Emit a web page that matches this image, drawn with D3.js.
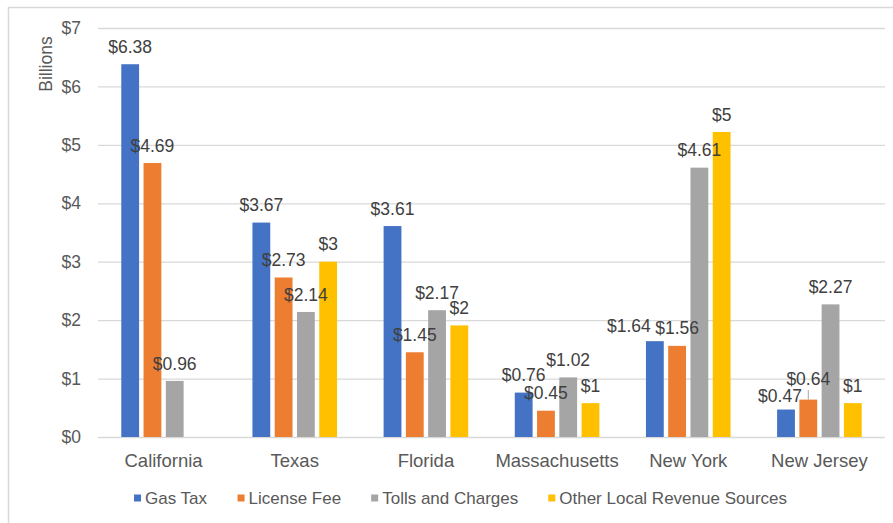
<!DOCTYPE html>
<html>
<head>
<meta charset="utf-8">
<script src="https://cdn.jsdelivr.net/npm/d3@7"></script>
<style>
  body { margin: 0; background: #fff; }
  svg text { font-family: "Liberation Sans", Arial, sans-serif; }
</style>
</head>
<body>
<svg id="chart" width="893" height="523"></svg>
<script>
const states = ["California", "Texas", "Florida", "Massachusetts", "New York", "New Jersey"];
const seriesNames = ["Gas Tax", "License Fee", "Tolls and Charges", "Other Local Revenue Sources"];
const gasTax = [6.38, 3.67, 3.61, 0.76, 1.64, 0.47];
const licenseFee = [4.69, 2.73, 1.45, 0.45, 1.56, 0.64];
const tollsCharges = [0.96, 2.14, 2.17, 1.02, 4.61, 2.27];
const otherLocal = [null, 3.0, 1.91, 0.58, 5.22, 0.58];
const yTicks = [0, 1, 2, 3, 4, 5, 6, 7];

const colors = ["#4472C4", "#ED7D31", "#A5A5A5", "#FFC000"];
const seriesValues = [gasTax, licenseFee, tollsCharges, otherLocal];
// Excel shows the last series rounded to whole dollars
const labelFormats = [d3.format("$.2f"), d3.format("$.2f"), d3.format("$.2f"), d3.format("$.0f")];
// a few labels were dragged off-centre in the original
const labelNudge = {"New York|0": [-26, 2], "New Jersey|0": [-6, 4], "New Jersey|1": [0, -3]};

const svg = d3.select("#chart");
const margin = { left: 98, right: 8, top: 28, bottom: 86 };
const width = +svg.attr("width");
const height = +svg.attr("height");

// outer frame (only top/left edges visible in the crop)
svg.append("path")
  .attr("d", `M8.5,${height} V7.5 H${width}`)
  .attr("fill", "none")
  .attr("stroke", "#d9d9d9")
  .attr("stroke-width", 1.5);

const x0 = d3.scaleBand()
  .domain(states)
  .range([margin.left, width - margin.right])
  .paddingInner(0.287)
  .paddingOuter(0.1435);

const x1 = d3.scaleBand()
  .domain(d3.range(seriesNames.length))
  .range([0, x0.bandwidth()])
  .padding(0.2);

const y = d3.scaleLinear()
  .domain([0, 7])
  .range([height - margin.bottom, margin.top]);

// gridlines + tick labels
const yAxis = d3.axisLeft(y)
  .tickValues(yTicks)
  .tickFormat(d3.format("$"))
  .tickSize(-(width - margin.right - margin.left))
  .tickPadding(17);

const yAxisG = svg.append("g")
  .attr("transform", `translate(${margin.left},0)`)
  .call(yAxis);
yAxisG.select(".domain").remove();
yAxisG.selectAll(".tick line").attr("stroke", "#d9d9d9").attr("stroke-width", 1.3);
yAxisG.selectAll(".tick text")
  .attr("fill", "#595959")
  .style("font-size", "17.5px");

svg.append("text")
  .attr("transform", "rotate(-90)")
  .attr("x", -64)
  .attr("y", 51.5)
  .attr("text-anchor", "middle")
  .attr("fill", "#595959")
  .style("font-size", "17.5px")
  .text("Billions");

// bars
const rows = [];
states.forEach((s, i) => {
  seriesValues.forEach((vals, k) => {
    if (vals[i] != null) rows.push({ state: s, k: k, value: vals[i] });
  });
});

const g = svg.append("g");
g.selectAll("rect")
  .data(rows)
  .join("rect")
  .attr("x", d => x0(d.state) + x1(d.k))
  .attr("y", d => y(d.value))
  .attr("width", x1.bandwidth())
  .attr("height", d => y(0) - y(d.value))
  .attr("fill", d => colors[d.k]);

// data labels
const labelG = svg.append("g");
rows.forEach(d => {
  const nudge = labelNudge[d.state + "|" + d.k] || [0, 0];
  const cx = x0(d.state) + x1(d.k) + x1.bandwidth() / 2;
  const top = y(d.value);
  const ly = top - 17.5 + nudge[1];
  labelG.append("text")
    .attr("x", cx + nudge[0])
    .attr("y", ly)
    .attr("dy", "0.35em")
    .attr("text-anchor", "middle")
    .attr("fill", "#404040")
    .style("font-size", "17.5px")
    .text(labelFormats[d.k](d.value));
  if (nudge[1] < 0) {
    labelG.append("line")
      .attr("x1", cx).attr("x2", cx)
      .attr("y1", ly + 11).attr("y2", top)
      .attr("stroke", "#a6a6a6")
      .attr("stroke-width", 1);
  }
});

// category labels
svg.append("g")
  .selectAll("text")
  .data(states)
  .join("text")
  .attr("x", d => x0(d) + x0.bandwidth() / 2)
  .attr("y", height - margin.bottom + 30)
  .attr("text-anchor", "middle")
  .attr("fill", "#595959")
  .style("font-size", "18.5px")
  .text(d => d);

// legend
const legend = svg.append("g");
const items = legend.selectAll("g")
  .data(seriesNames)
  .join("g");
items.append("rect")
  .attr("width", 7)
  .attr("height", 7)
  .attr("y", -3.5)
  .attr("fill", (d, i) => colors[i]);
items.append("text")
  .attr("x", 11)
  .attr("dy", "0.35em")
  .attr("fill", "#595959")
  .style("font-size", "17px")
  .text(d => d);

let lx = 0;
const itemX = [];
items.each(function () {
  itemX.push(lx);
  lx += this.getBBox().width + 30;
});
const legendW = lx - 30;
const legendStart = 460.5 - legendW / 2;
items.attr("transform", (d, i) => `translate(${legendStart + itemX[i]},498)`);
</script>
</body>
</html>
